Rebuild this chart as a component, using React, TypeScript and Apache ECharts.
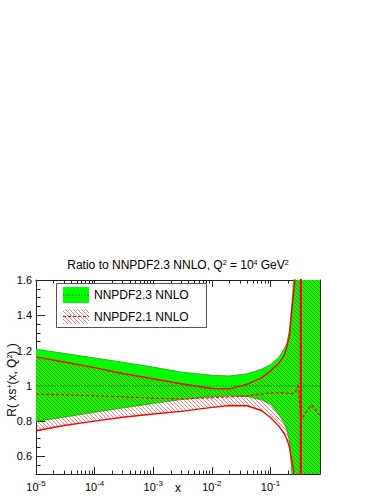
import React, { useEffect, useRef } from "react";
import * as echarts from "echarts";

// x grid (momentum fraction) and ratios
const xGrid = [1e-5, 3e-5, 1e-4, 3e-4, 1e-3, 3e-3, 0.01, 0.02, 0.04, 0.07, 0.1, 0.14, 0.17, 0.19, 0.21, 0.23, 0.25, 0.27, 0.3, 0.33, 0.4, 0.5, 0.6, 0.7];
const nn23Upper = [1.208, 1.184, 1.158, 1.134, 1.106, 1.078, 1.06, 1.056, 1.068, 1.094, 1.12, 1.164, 1.208, 1.24, 1.31, 1.45, 1.62, 1.8, 1.8, 1.8, 1.8, 1.8, 1.8, 1.8];
const nn23Lower = [0.798, 0.822, 0.85, 0.874, 0.9, 0.922, 0.938, 0.943, 0.94, 0.92, 0.896, 0.835, 0.79, 0.75, 0.69, 0.52, 0.3, 0.3, 0.3, 0.3, 0.3, 0.3, 0.3, 0.3];
const nn23Central = [1, 1, 1, 1, 1, 1, 1, 1, 1, 1, 1, 1, 1, 1, 1, 1, 1, 1, 1, 1, 1, 1, 1, 1];
const nn21Upper = [1.164, 1.135, 1.103, 1.07, 1.04, 1.012, 0.985, 0.983, 1.01, 1.045, 1.085, 1.13, 1.17, 1.22, 1.28, 1.42, 1.53, 1.65, 1.8, 1.8, 1.8, 1.8, 1.8, 1.8];
const nn21Lower = [0.745, 0.775, 0.8, 0.822, 0.84, 0.855, 0.878, 0.888, 0.887, 0.86, 0.82, 0.77, 0.73, 0.7, 0.655, 0.58, 0.51, 0.4, 0.3, 0.3, 0.3, 0.3, 0.3, 0.3];
const nn21Central = [0.953, 0.949, 0.944, 0.938, 0.93, 0.926, 0.932, 0.938, 0.943, 0.953, 0.96, 0.96, 0.96, 0.958, 0.957, 0.956, 0.957, 0.968, 1.01, 0.8, 0.85, 0.89, 0.86, 0.83];
const poleX = [0.33, 0.33];
const poleY = [0.3, 1.8];

const xMin = 1e-5;
const xMax = 0.7;
const yMin = 0.5;
const yMax = 1.6;
const xDecades = [-5, -4, -3, -2, -1];
const yLabels = [0.6, 0.8, 1, 1.2, 1.4, 1.6];

const FONT = "'Liberation Sans', Arial, Helvetica, sans-serif";
const lg = (v: number) => Math.log10(v);

function makeHatch() {
  const s = 4;
  const c = document.createElement("canvas");
  c.width = s;
  c.height = s;
  const ctx = c.getContext("2d")!;
  ctx.strokeStyle = "rgba(255,0,0,0.85)";
  ctx.lineWidth = 0.6;
  ctx.beginPath();
  ctx.moveTo(-1, -1);
  ctx.lineTo(s + 1, s + 1);
  ctx.moveTo(-1, s - 1);
  ctx.lineTo(1, s + 1);
  ctx.moveTo(s - 1, -1);
  ctx.lineTo(s + 1, 1);
  ctx.stroke();
  return { image: c, repeat: "repeat", imageWidth: s, imageHeight: s } as any;
}

export default function App() {
  const ref = useRef<HTMLDivElement>(null);
  useEffect(() => {
    if (!ref.current) return;
    const chart = echarts.init(ref.current, undefined, { renderer: "svg" });
    const hatch = makeHatch();

    const minorX: number[] = [];
    xDecades.forEach((d) => {
      for (let k = 2; k <= 9; k++) {
        const v = k * Math.pow(10, d);
        if (v <= xMax) minorX.push(lg(v));
      }
    });
    const minorY: number[] = [];
    for (let v = yMin; v <= yMax + 1e-9; v += 0.05) minorY.push(Math.round(v * 100) / 100);

    const bandData = (lo: number[], up: number[]) => xGrid.map((x, i) => [lg(x), lo[i], up[i]]);
    const bandRender = (lo: number[], up: number[], fill: any) => (params: any, api: any) => {
      if (params.dataIndex !== 0) return null;
      const pts: number[][] = [];
      for (let i = 0; i < xGrid.length; i++) pts.push(api.coord([lg(xGrid[i]), up[i]]));
      for (let i = xGrid.length - 1; i >= 0; i--) pts.push(api.coord([lg(xGrid[i]), lo[i]]));
      return { type: "polygon", shape: { points: pts }, style: { fill, stroke: null } };
    };
    const lineData = (ys: number[]) => xGrid.map((x, i) => [lg(x), ys[i]]);
    const lineSeries = (ys: number[], color: string, width: number, type: any, z: number) => ({
      type: "line",
      data: lineData(ys),
      symbol: "none",
      clip: true,
      z,
      lineStyle: { color, width, type },
      silent: true,
    });

    const sup = { fontSize: 8, padding: [0, 0, 7, 0], fontFamily: FONT, color: "#000" };
    const xBase = {
      type: "value",
      min: lg(xMin),
      max: lg(xMax),
      splitLine: { show: false },
    };
    const yBase = { type: "value", min: yMin, max: yMax, splitLine: { show: false } };
    const axColor = "#222";

    chart.setOption({
      animation: false,
      grid: { left: 36, top: 280, width: 284, height: 194, containLabel: false },
      xAxis: [
        {
          ...xBase,
          position: "bottom",
          axisLine: { show: true, lineStyle: { color: axColor, width: 1 } },
          axisTick: { show: true, inside: true, length: 7, customValues: xDecades, lineStyle: { color: axColor } },
          axisLabel: {
            customValues: xDecades,
            margin: 5,
            fontSize: 11,
            fontFamily: FONT,
            color: "#000",
            formatter: (v: number) => `10{s|${Math.round(v)}}`,
            rich: { s: sup },
          },
        },
        {
          ...xBase,
          position: "bottom",
          axisLine: { show: false },
          axisTick: { show: true, inside: true, length: 3.5, customValues: minorX, lineStyle: { color: axColor } },
          axisLabel: { show: false },
        },
        {
          ...xBase,
          position: "top",
          axisLine: { show: true, lineStyle: { color: axColor, width: 1 } },
          axisTick: { show: true, inside: true, length: 7, customValues: xDecades, lineStyle: { color: axColor } },
          axisLabel: { show: false },
        },
        {
          ...xBase,
          position: "top",
          axisLine: { show: false },
          axisTick: { show: true, inside: true, length: 3.5, customValues: minorX, lineStyle: { color: axColor } },
          axisLabel: { show: false },
        },
      ],
      yAxis: [
        {
          ...yBase,
          position: "left",
          axisLine: { show: true, lineStyle: { color: axColor, width: 1 } },
          axisTick: { show: true, inside: true, length: 9, customValues: yLabels, lineStyle: { color: axColor } },
          axisLabel: { customValues: yLabels, margin: 4, fontSize: 11, fontFamily: FONT, color: "#000" },
        },
        {
          ...yBase,
          position: "left",
          axisLine: { show: false },
          axisTick: { show: true, inside: true, length: 4.5, customValues: minorY, lineStyle: { color: axColor } },
          axisLabel: { show: false },
        },
        {
          ...yBase,
          position: "right",
          axisLine: { show: true, lineStyle: { color: axColor, width: 1 } },
          axisTick: { show: true, inside: true, length: 9, customValues: yLabels, lineStyle: { color: axColor } },
          axisLabel: { show: false },
        },
        {
          ...yBase,
          position: "right",
          axisLine: { show: false },
          axisTick: { show: true, inside: true, length: 4.5, customValues: minorY, lineStyle: { color: axColor } },
          axisLabel: { show: false },
        },
      ],
      series: [
        {
          type: "custom",
          name: "NNPDF2.3 NNLO band",
          data: bandData(nn23Lower, nn23Upper),
          encode: { x: 0, y: [1, 2] },
          renderItem: bandRender(nn23Lower, nn23Upper, "#00ff00"),
          clip: true,
          z: 1,
          silent: true,
        },
        lineSeries(nn23Upper, "#2a9a2a", 0.8, "solid", 3),
        lineSeries(nn23Lower, "#2a9a2a", 0.8, "solid", 3),
        {
          type: "custom",
          name: "NNPDF2.1 NNLO band",
          data: bandData(nn21Lower, nn21Upper),
          encode: { x: 0, y: [1, 2] },
          renderItem: bandRender(nn21Lower, nn21Upper, hatch),
          clip: true,
          z: 2,
          silent: true,
        },
        lineSeries(nn21Upper, "#ff0000", 1.4, "solid", 4),
        lineSeries(nn21Lower, "#ff0000", 1.4, "solid", 4),
        lineSeries(nn23Central, "#2f6f2f", 1, [1.5, 1.5], 5),
        lineSeries(nn21Central, "#ff0000", 1.2, [3, 2], 5),
        {
          type: "line",
          data: poleX.map((x, i) => [lg(x), poleY[i]]),
          symbol: "none",
          clip: true,
          z: 4,
          lineStyle: { color: "#ff0000", width: 2.2 },
          silent: true,
        },
      ],
      graphic: [
        {
          type: "text",
          x: 178,
          y: 265,
          z: 100,
          style: {
            text: "Ratio to NNPDF2.3 NNLO, Q{s|2} = 10{s|4} GeV{s|2}",
            fontSize: 12,
            fontFamily: FONT,
            fill: "#000",
            align: "center",
            verticalAlign: "middle",
            rich: { s: { fontSize: 7, padding: [0, 0, 6, 0], fontFamily: FONT, fill: "#000" } },
          },
        },
        {
          type: "text",
          x: 12,
          y: 380,
          rotation: Math.PI / 2,
          z: 100,
          style: {
            text: "R( xs{s|+}(x, Q{s|2}) )",
            fontSize: 12,
            fontFamily: FONT,
            fill: "#000",
            align: "center",
            verticalAlign: "middle",
            rich: { s: { fontSize: 7, padding: [0, 0, 6, 0], fontFamily: FONT, fill: "#000" } },
          },
        },
        {
          type: "text",
          x: 178,
          y: 488,
          z: 100,
          style: { text: "x", fontSize: 12, fontFamily: FONT, fill: "#000", align: "center", verticalAlign: "middle" },
        },
        {
          type: "rect",
          z: 100,
          shape: { x: 56.5, y: 283.5, width: 150, height: 44 },
          style: { fill: "#fff", stroke: "#555", lineWidth: 1 },
        },
        {
          type: "rect",
          z: 101,
          shape: { x: 63, y: 287, width: 26, height: 16 },
          style: { fill: "#00ff00" },
        },
        {
          type: "line",
          z: 102,
          shape: { x1: 63, y1: 295, x2: 89, y2: 295 },
          style: { stroke: "#2f6f2f", lineWidth: 1, lineDash: [1.5, 1.5] },
        },
        {
          type: "rect",
          z: 101,
          shape: { x: 63, y: 309, width: 26, height: 15 },
          style: { fill: hatch },
        },
        {
          type: "line",
          z: 102,
          shape: { x1: 63, y1: 316.5, x2: 89, y2: 316.5 },
          style: { stroke: "#ff0000", lineWidth: 1.2, lineDash: [3, 2] },
        },
        {
          type: "text",
          z: 102,
          x: 94,
          y: 295,
          style: { text: "NNPDF2.3 NNLO", fontSize: 12, fontFamily: FONT, fill: "#000", verticalAlign: "middle" },
        },
        {
          type: "text",
          z: 102,
          x: 94,
          y: 316.5,
          style: { text: "NNPDF2.1 NNLO", fontSize: 12, fontFamily: FONT, fill: "#000", verticalAlign: "middle" },
        },
      ],
    });
    return () => chart.dispose();
  }, []);
  return (
    <div
      ref={ref}
      style={{ position: "absolute", left: 0, top: 0, width: 384, height: 497, background: "#fff" }}
    />
  );
}
